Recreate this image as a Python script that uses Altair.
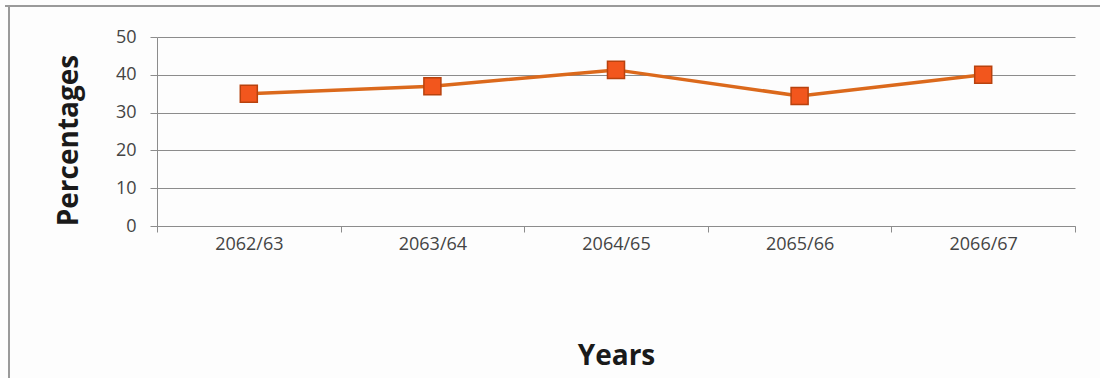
import altair as alt
import pandas as pd

years = ["2062/63", "2063/64", "2064/65", "2065/66", "2066/67"]
percentages = [35, 37, 41.3, 34.4, 40]
y_ticks = [0, 10, 20, 30, 40, 50]

df = pd.DataFrame({"Year": years, "Percentage": percentages})

W, H = 918, 189
PAD = {"left": 157, "top": 37, "right": 25, "bottom": 152}

x_enc = alt.X(
    "Year:N",
    sort=years,
    scale=alt.Scale(paddingInner=0, paddingOuter=0),
    axis=alt.Axis(
        title="Years",
        titleFont="Open Sans",
        titleFontSize=28,
        titleFontWeight="bold",
        titleColor="#1a1a1a",
        titlePadding=89,
        labelAngle=0,
        labelFont="Open Sans",
        labelFontSize=18,
        labelColor="#444444",
        labelPadding=3,
        tickBand="extent",
        tickSize=6,
        tickColor="#8c8c8c",
        domainColor="#8c8c8c",
        grid=False,
    ),
)
y_enc = alt.Y(
    "Percentage:Q",
    scale=alt.Scale(domain=[0, 50], nice=False),
    axis=alt.Axis(
        title="Percentages",
        values=y_ticks,
        titleFont="Open Sans",
        titleFontSize=28,
        titleFontWeight="bold",
        titleColor="#1a1a1a",
        titlePadding=32,
        titleY=103,
        labelFont="Open Sans",
        labelFontSize=18,
        labelColor="#444444",
        labelPadding=14,
        tickSize=7,
        tickColor="#8c8c8c",
        domainColor="#8c8c8c",
        gridColor="#8c8c8c",
        gridWidth=1,
    ),
)

line = alt.Chart(df).mark_line(color="#DB691C", strokeWidth=3.5).encode(x=x_enc, y=y_enc)
points = alt.Chart(df).mark_point(
    shape="square", size=290, filled=True, fill="#F2561D", stroke="#B8420E",
    strokeWidth=1.5, opacity=1,
).encode(x=x_enc, y=y_enc)

# outer frame: top and left edges of the chart box
frame_top = alt.Chart(df).mark_rule(color="#9a9a9a", strokeWidth=2).encode(
    x=alt.value(-152), x2=alt.value(W + 30), y=alt.value(-31)
)
frame_left = alt.Chart(df).mark_rule(color="#9a9a9a", strokeWidth=2).encode(
    x=alt.value(-148), y=alt.value(-31), y2=alt.value(H + 160)
)

chart = alt.layer(frame_top, frame_left, line, points).properties(
    width=W, height=H, padding=PAD, autosize=alt.AutoSizeParams(type="none"),
    background="#fdfdfd",
).configure_view(stroke=None)

chart.save("out.html", embed_options={"renderer": "svg", "actions": False})
